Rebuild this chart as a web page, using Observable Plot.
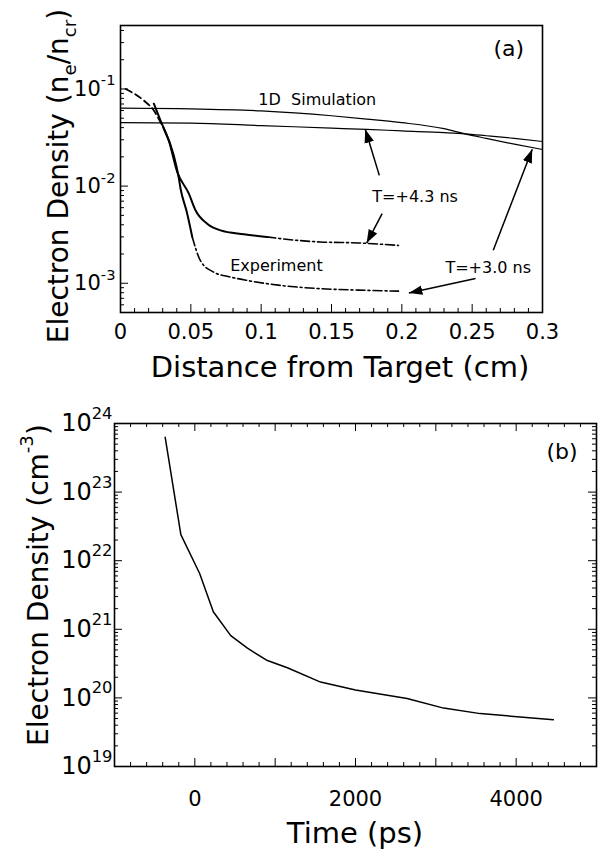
<!DOCTYPE html>
<html><head><meta charset="utf-8">
<script src="https://cdn.jsdelivr.net/npm/d3@7"></script>
<script src="https://cdn.jsdelivr.net/npm/@observablehq/plot@0.6"></script>
<style>
body{margin:0;background:#fff;}
#chart{width:599px;height:852px;position:relative;}
#chart svg{display:block;}
</style></head><body><div id="chart"></div>
<script>
const FONT = "'DejaVu Sans', Verdana, sans-serif";

// ---------- Panel (a) data ----------
const simX      = [0, 0.05, 0.1, 0.15, 0.175, 0.2, 0.23, 0.245, 0.26, 0.28, 0.3];
const simT30    = [0.0635, 0.0625, 0.0595, 0.053, 0.049, 0.045, 0.039, 0.0345, 0.031, 0.027, 0.0238];
const simT43    = [0.045, 0.0445, 0.042, 0.0395, 0.0384, 0.037, 0.0355, 0.0345, 0.033, 0.031, 0.0288];

const expT30X   = [0.0036, 0.0166, 0.0237, 0.0284, 0.0308, 0.0379, 0.0415, 0.0427, 0.047, 0.051, 0.0569, 0.0663, 0.078, 0.09, 0.1137, 0.142, 0.169, 0.1976];
const expT30Y   = [0.1, 0.076, 0.060, 0.0456, 0.039, 0.0207, 0.0120, 0.0094, 0.0055, 0.003, 0.0017, 0.0013, 0.00116, 0.00107, 0.00095, 0.00088, 0.00085, 0.00083];
const expT30Breaks = [0.0308, 0.051];   // dashed | solid | dash-dot

const expT43X   = [0.0237, 0.0284, 0.0343, 0.0403, 0.0486, 0.0533, 0.0616, 0.0711, 0.0877, 0.104, 0.1137, 0.142, 0.169, 0.1976];
const expT43Y   = [0.0705, 0.0474, 0.0295, 0.0140, 0.00836, 0.00564, 0.0041, 0.0035, 0.0032, 0.0030, 0.00288, 0.00266, 0.0026, 0.00245];
const expT43Break = 0.104;               // solid | dash-dot

const notesA = [
  {x: 0.098, y: 0.0774, text: "1D\u00a0\u00a0Simulation"},
  {x: 0.179, y: 0.00766, text: "T=+4.3 ns"},
  {x: 0.231, y: 0.00143, text: "T=+3.0 ns"},
  {x: 0.078, y: 0.00151, text: "Experiment"}
];
const panelLabelA = {x: 0.276, y: 0.26, text: "(a)"};
const arrowsA = [
  {x1: 0.184, y1: 0.0129, x2: 0.174, y2: 0.0384},
  {x1: 0.186, y1: 0.00521, x2: 0.175, y2: 0.00259},
  {x1: 0.265, y1: 0.00219, x2: 0.2927, y2: 0.0239},
  {x1: 0.2524, y1: 0.00112, x2: 0.205, y2: 0.000794}
];
const xTickLabelsA = [0, 0.05, 0.1, 0.15, 0.2, 0.25, 0.3];
const yTickLabelsA = [1e-3, 1e-2, 1e-1];

// ---------- Panel (b) data ----------
const timePs  = [-369, -174, 60, 230, 447, 655, 903, 1152, 1565, 2000, 2642, 3097, 3553, 4463];
const density = [6.3e23, 2.4e22, 6.5e21, 1.8e21, 8.1e20, 5.3e20, 3.5e20, 2.75e20, 1.7e20, 1.3e20, 9.8e19, 7.1e19, 5.9e19, 4.8e19];
const panelLabelB = {x: 4571, y: 3.9e23, text: "(b)"};
const xTickLabelsB = [0, 2000, 4000];
const yTickLabelsB = [1e19, 1e20, 1e21, 1e22, 1e23, 1e24];

// ---------- helpers ----------
function logTicks(lo, hi) {
  const major = [], minor = [];
  for (let e = Math.floor(Math.log10(lo)); e <= Math.ceil(Math.log10(hi)); e++) {
    for (let k = 1; k <= 9; k++) {
      const v = k * Math.pow(10, e);
      if (v < lo * 0.999 || v > hi * 1.001) continue;
      (k === 1 ? major : minor).push(v);
    }
  }
  return {major, minor};
}
function linTicks(lo, hi, step) {
  const out = [];
  const n = Math.round((hi - lo) / step);
  for (let i = 0; i <= n; i++) out.push(+(lo + i * step).toFixed(6));
  return out;
}
function seg(xs, ys, lo, hi) {
  const out = [];
  xs.forEach((x, i) => { if (x >= lo - 1e-9 && x <= hi + 1e-9) out.push({x, y: ys[i]}); });
  return out;
}
const supFmt = d => "10^" + Math.round(Math.log10(d));
function supify(svg, ratio, rise) {
  d3.select(svg).selectAll("text").each(function () {
    if (this.childElementCount) return;
    const m = this.textContent.match(/^(.*)\^(.*)$/);
    if (!m) return;
    const s = d3.select(this); s.text(null);
    s.append("tspan").text(m[1]);
    s.append("tspan").style("font-size", ratio).attr("dy", rise).text(m[2]);
  });
}
function solidHeads(svg) {
  d3.select(svg).selectAll("marker").each(function () {
    const mk = d3.select(this);
    mk.attr("viewBox", "-9 -5 10 10").attr("markerWidth", 10).attr("markerHeight", 10)
      .attr("fill", "black").attr("stroke", "none");
    mk.selectAll("*").remove();
    mk.append("path").attr("d", "M-9,-3.2L0,0L-9,3.2Z").attr("fill", "black");
  });
}

// ---------- Panel (a) ----------
const WA = 599, HA = 385, mlA = 120, mrA = 57, mtA = 25, mbA = 73;
const fwA = WA - mlA - mrA, fhA = HA - mtA - mbA;
const yA = logTicks(5e-4, 0.45);
const xMajA = linTicks(0, 0.3, 0.05);
const xMinA = linTicks(0, 0.3, 0.01).filter(v => !xMajA.some(m => Math.abs(m - v) < 1e-9));

const simRows30 = simX.map((x, i) => ({x, y: simT30[i]}));
const simRows43 = simX.map((x, i) => ({x, y: simT43[i]}));

const plotA = Plot.plot({
  width: WA, height: HA,
  marginLeft: mlA, marginRight: mrA, marginTop: mtA, marginBottom: mbA,
  x: {domain: [0, 0.3]},
  y: {type: "log", domain: [5e-4, 0.45]},
  style: {fontFamily: FONT, color: "black", background: "white", overflow: "visible"},
  marks: [
    Plot.ruleX(xMinA, {insetTop: fhA - 4, stroke: "black"}),
    Plot.ruleX(xMajA, {insetTop: fhA - 8, stroke: "black"}),
    Plot.ruleY(yA.minor, {insetRight: fwA - 4, stroke: "black"}),
    Plot.ruleY(yA.major, {insetRight: fwA - 8, stroke: "black"}),
    Plot.line(simRows30, {x: "x", y: "y", stroke: "black", strokeWidth: 1.2, curve: "monotone-x"}),
    Plot.line(simRows43, {x: "x", y: "y", stroke: "black", strokeWidth: 1.2, curve: "monotone-x"}),
    Plot.line(seg(expT30X, expT30Y, 0, expT30Breaks[0]), {x: "x", y: "y", stroke: "black", strokeWidth: 1.8, strokeDasharray: "7,4", curve: "monotone-x"}),
    Plot.line(seg(expT30X, expT30Y, expT30Breaks[0], expT30Breaks[1]), {x: "x", y: "y", stroke: "black", strokeWidth: 2, curve: "monotone-x"}),
    Plot.line(seg(expT30X, expT30Y, expT30Breaks[1], 1), {x: "x", y: "y", stroke: "black", strokeWidth: 1.6, strokeDasharray: "9,3,2,3", curve: "monotone-x"}),
    Plot.line(seg(expT43X, expT43Y, 0, expT43Break), {x: "x", y: "y", stroke: "black", strokeWidth: 2, curve: "monotone-x"}),
    Plot.line(seg(expT43X, expT43Y, expT43Break, 1), {x: "x", y: "y", stroke: "black", strokeWidth: 1.6, strokeDasharray: "9,3,2,3", curve: "monotone-x"}),
    Plot.link(arrowsA, {x1: "x1", y1: "y1", x2: "x2", y2: "y2", stroke: "black", strokeWidth: 1.5, markerEnd: "arrow"}),
    Plot.text(notesA, {x: "x", y: "y", text: "text", fontSize: 16, textAnchor: "start", fill: "black"}),
    Plot.text([panelLabelA], {x: "x", y: "y", text: "text", fontSize: 22, textAnchor: "middle", fill: "black"}),
    Plot.axisX(xTickLabelsA, {tickSize: 0, tickPadding: 12, fontSize: 21, label: null, tickFormat: d => String(+d.toFixed(2))}),
    Plot.axisY(yTickLabelsA, {tickSize: 0, tickPadding: 5, fontSize: 21, label: null, tickFormat: supFmt}),
    Plot.frame({stroke: "black", strokeWidth: 1.6})
  ]
});
supify(plotA, "70%", "-0.7em");
solidHeads(plotA);
{
  const s = d3.select(plotA);
  const yt = s.append("text").attr("transform", "translate(68,176) rotate(-90)")
    .attr("text-anchor", "middle").attr("font-size", 28).attr("fill", "black").attr("font-family", FONT);
  yt.append("tspan").text("Electron Density (n");
  yt.append("tspan").style("font-size", "65%").attr("dy", "0.45em").text("e");
  yt.append("tspan").attr("dy", "-0.3em").text("/n");
  yt.append("tspan").style("font-size", "65%").attr("dy", "0.45em").text("cr");
  yt.append("tspan").attr("dy", "-0.3em").text(")");
  s.append("text").attr("x", 340).attr("y", 377).attr("text-anchor", "middle")
    .attr("font-size", 29).attr("fill", "black").attr("font-family", FONT).text("Distance from Target (cm)");
}

// ---------- Panel (b) ----------
const WB = 599, HB = 467, mlB = 114, mrB = 3, mtB = 38, mbB = 86;
const fwB = WB - mlB - mrB, fhB = HB - mtB - mbB;
const yB = logTicks(1e19, 1e24);
const xMajB = linTicks(-1000, 5000, 1000);
const xMinB = linTicks(-1000, 5000, 200).filter(v => !xMajB.includes(v));
const rowsB = timePs.map((t, i) => ({t, n: density[i]}));

const plotB = Plot.plot({
  width: WB, height: HB,
  marginLeft: mlB, marginRight: mrB, marginTop: mtB, marginBottom: mbB,
  x: {domain: [-1000, 5000]},
  y: {type: "log", domain: [1e19, 1e24]},
  style: {fontFamily: FONT, color: "black", background: "white", overflow: "visible"},
  marks: [
    Plot.ruleX(xMinB, {insetTop: fhB - 4, stroke: "black"}),
    Plot.ruleX(xMajB, {insetTop: fhB - 8, stroke: "black"}),
    Plot.ruleX(xMinB, {insetBottom: fhB - 4, stroke: "black"}),
    Plot.ruleX(xMajB, {insetBottom: fhB - 8, stroke: "black"}),
    Plot.ruleY(yB.minor, {insetRight: fwB - 4, stroke: "black"}),
    Plot.ruleY(yB.major, {insetRight: fwB - 8, stroke: "black"}),
    Plot.ruleY(yB.minor, {insetLeft: fwB - 4, stroke: "black"}),
    Plot.ruleY(yB.major, {insetLeft: fwB - 8, stroke: "black"}),
    Plot.line(rowsB, {x: "t", y: "n", stroke: "black", strokeWidth: 1.5}),
    Plot.text([panelLabelB], {x: "x", y: "y", text: "text", fontSize: 22, fill: "black"}),
    Plot.axisX(xTickLabelsB, {tickSize: 0, tickPadding: 25, fontSize: 21, label: null, tickFormat: d => String(d)}),
    Plot.axisY(yTickLabelsB, {tickSize: 0, tickPadding: 2, fontSize: 24, label: null, tickFormat: supFmt}),
    Plot.frame({stroke: "black", strokeWidth: 1.6})
  ]
});
supify(plotB, "68%", "-0.75em");
{
  const s = d3.select(plotB);
  const yt = s.append("text").attr("transform", "translate(48,200) rotate(-90)")
    .attr("text-anchor", "middle").attr("font-size", 28).attr("fill", "black").attr("font-family", FONT);
  yt.append("tspan").text("Electron Density (cm");
  yt.append("tspan").style("font-size", "65%").attr("dy", "-0.8em").text("-3");
  yt.append("tspan").attr("dy", "0.52em").text(")");
  s.append("text").attr("x", 355).attr("y", 458).attr("text-anchor", "middle")
    .attr("font-size", 29).attr("fill", "black").attr("font-family", FONT).text("Time (ps)");
}

document.getElementById("chart").append(plotA, plotB);
</script>
</body></html>
